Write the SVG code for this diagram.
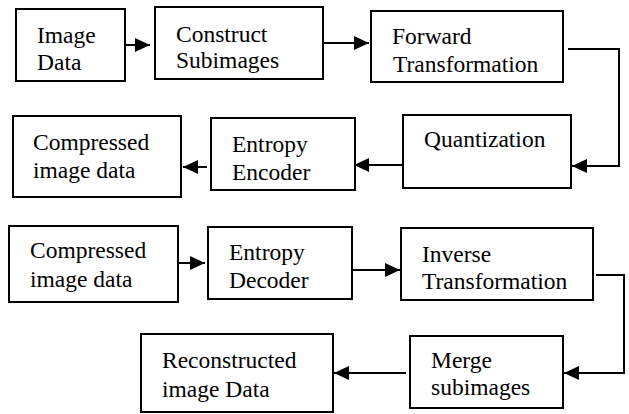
<svg xmlns="http://www.w3.org/2000/svg" width="629" height="414" viewBox="0 0 629 414">
<style>
.box{fill:#fff;stroke:#000;stroke-width:2}
.t{font-family:'Liberation Serif',Tinos,'Times New Roman',Times,serif;font-size:23.5px;fill:#000}
.c{fill:none;stroke:#000;stroke-width:2;marker-end:url(#ah)}
</style>
<defs>
<marker id="ah" markerUnits="userSpaceOnUse" markerWidth="15" markerHeight="14" refX="15" refY="7" orient="auto">
<path d="M0,0 L15,7 L0,14 z" fill="#000"/>
</marker>
</defs>
<rect width="629" height="414" fill="#fff"/>
<g id="n-image-data"><rect class="box" x="16" y="9" width="109" height="72"/><text class="t" x="37" y="43">Image</text><text class="t" x="37" y="70">Data</text></g>
<g id="n-construct"><rect class="box" x="155" y="7" width="168" height="72"/><text class="t" x="176" y="42">Construct</text><text class="t" x="176" y="68">Subimages</text></g>
<g id="n-forward"><rect class="box" x="371" y="11" width="192" height="71"/><text class="t" x="392" y="44">Forward</text><text class="t" x="393" y="72">Transformation</text></g>
<g id="n-quant"><rect class="box" x="403" y="115" width="168" height="73"/><text class="t" x="424" y="147">Quantization</text></g>
<g id="n-encoder"><rect class="box" x="211" y="118" width="144" height="72"/><text class="t" x="232" y="152">Entropy</text><text class="t" x="232" y="180">Encoder</text></g>
<g id="n-compressed1"><rect class="box" x="13" y="116" width="168" height="81"/><text class="t" x="33" y="150">Compressed</text><text class="t" x="33" y="178">image data</text></g>
<g id="n-compressed2"><rect class="box" x="9" y="226" width="169" height="76"/><text class="t" x="30" y="258">Compressed</text><text class="t" x="30" y="287">image data</text></g>
<g id="n-decoder"><rect class="box" x="208" y="227" width="144" height="72"/><text class="t" x="229" y="260">Entropy</text><text class="t" x="229" y="288">Decoder</text></g>
<g id="n-inverse"><rect class="box" x="401" y="228" width="192" height="72"/><text class="t" x="422" y="262">Inverse</text><text class="t" x="422" y="289">Transformation</text></g>
<g id="n-merge"><rect class="box" x="410" y="336" width="153" height="72"/><text class="t" x="431" y="368">Merge</text><text class="t" x="431" y="395">subimages</text></g>
<g id="n-recon"><rect class="box" x="141" y="334" width="192" height="78"/><text class="t" x="162" y="368">Reconstructed</text><text class="t" x="162" y="397">image Data</text></g>
<g id="connectors">
<path class="c" d="M125,45 H150"/>
<path class="c" d="M323,43 H369"/>
<path class="c" d="M568,49 H619 V166 H572"/>
<path class="c" d="M403,165 H354"/>
<path class="c" d="M207,167 H183"/>
<path class="c" d="M178,263 H205"/>
<path class="c" d="M352,270 H400"/>
<path class="c" d="M596,275 H624 V373 H564"/>
<path class="c" d="M406,373 H334"/>
</g>
</svg>
